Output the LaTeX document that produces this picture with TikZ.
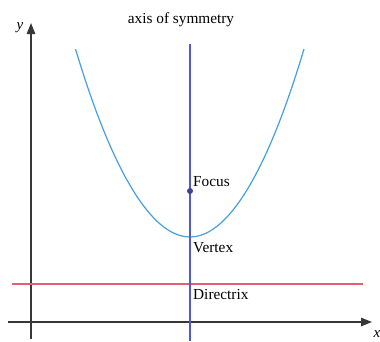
\documentclass[tikz,border=0pt]{standalone}
\usepackage{fontspec}
\setmainfont{Liberation Serif}
\usetikzlibrary{arrows.meta}
\definecolor{axisgray}{RGB}{55,55,55}
\definecolor{parblue}{RGB}{70,160,220}
\definecolor{symblue}{RGB}{80,90,200}
\definecolor{dirred}{RGB}{230,95,110}
\definecolor{focpurple}{RGB}{75,60,150}
\begin{document}
\begin{tikzpicture}[x=1pt,y=-1pt,
  axisline/.style={draw=axisgray,line width=1.2pt,-{Triangle[length=11pt,width=8.5pt]}},
  lbl/.style={font=\fontsize{15.3}{18}\selectfont,inner sep=0pt},
  axlbl/.style={font=\fontsize{15}{18}\selectfont\itshape,inner sep=0pt}]
\useasboundingbox (0,0) rectangle (380,341);
% axes
\coordinate (ybot) at (31,339);
\coordinate (ytop) at (31,23);
\coordinate (xl) at (8,322);
\coordinate (xr) at (372,322);
\draw[axisline] (ybot) -- (ytop);
\draw[axisline] (xl) -- (xr);
\node[axlbl,anchor=base] (ylab) at (20,29) {y};
\node[axlbl,anchor=base] (xlab) at (377,337) {x};
% directrix
\coordinate (dl) at (12,284);
\coordinate (dr) at (363,284);
\draw[dirred,line width=1.2pt] (dl) -- (dr);
% parabola
\coordinate (pl) at (75.5,49);
\coordinate (pv) at (190,237);
\coordinate (pr) at (304,49);
\draw[parblue,line width=1.2pt] (pl) parabola bend (pv) (pr);
% axis of symmetry
\coordinate (st) at (190,44);
\coordinate (sb) at (190,341);
\draw[symblue,line width=1.2pt] (st) -- (sb);
\node[lbl,anchor=base] (axlab) at (181,23) {axis of symmetry};
% focus
\coordinate (foc) at (190,191);
\fill[focpurple] (foc) circle (3);
\node[lbl,anchor=base west] (foclab) at (193,186) {Focus};
\node[lbl,anchor=base west] (vertlab) at (193,252) {Vertex};
\node[lbl,anchor=base west] (dirlab) at (193,299) {Directrix};
\end{tikzpicture}
\end{document}
